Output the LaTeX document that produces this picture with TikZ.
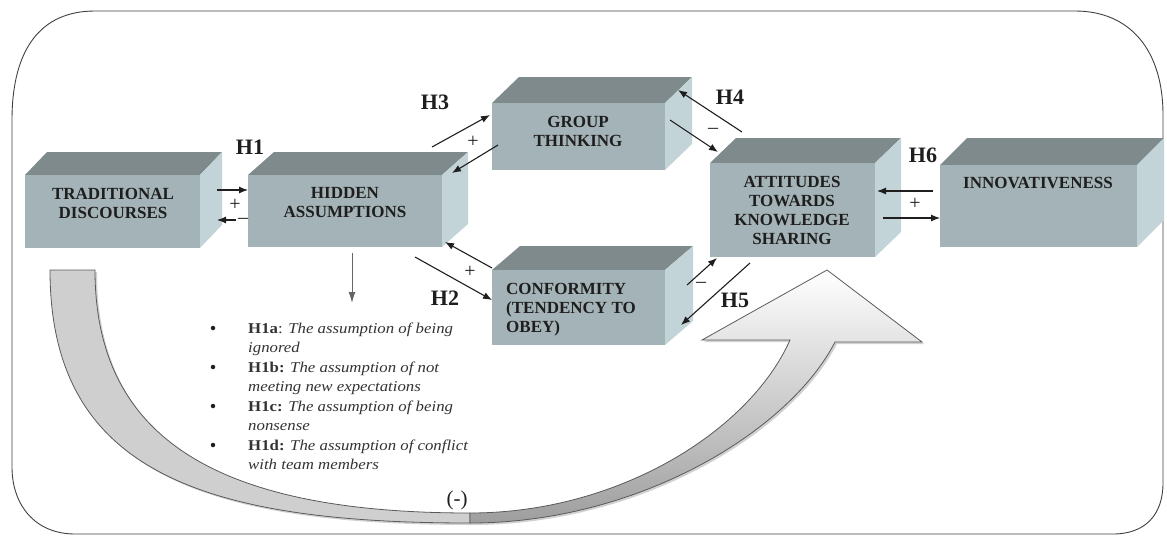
\documentclass[tikz,border=0pt]{standalone}
\usepackage{fontspec}
\setmainfont{Liberation Serif}
\newfontfamily\listfont[FakeStretch=1.12]{Liberation Serif}
\usetikzlibrary{arrows.meta,calc}

\definecolor{cubetop}{HTML}{7F8A8D}
\definecolor{cubefront}{HTML}{A4B3B7}
\definecolor{cubeside}{HTML}{C3D4D8}
\definecolor{ink}{HTML}{1E1E1E}
\definecolor{bandfill}{HTML}{CFCFCF}
\definecolor{bandedge}{HTML}{5A5A5A}

\tikzset{
  x=1pt, y=-1pt,
  frontface/.style={fill=cubefront, draw=none, inner sep=0pt, anchor=north west},
  boxlabel/.style={font=\fontsize{17}{19}\selectfont\bfseries, text=ink, align=center, inner sep=0pt},
  hyp/.style={font=\fontsize{22}{24}\selectfont\bfseries, text=ink, inner sep=0pt},
  sign/.style={font=\fontsize{20}{20}\selectfont, text=ink, inner sep=0pt},
  link/.style={-{Latex[length=9pt,width=7pt]}, line width=1.1pt, draw=ink},
  downlink/.style={-{Latex[length=11pt,width=7pt]}, line width=1pt, draw=black!60},
  listtext/.style={font=\listfont\fontsize{15}{19.5}\selectfont, text=black!80, inner sep=0pt, anchor=base west},
  bullet/.style={circle, fill=ink, inner sep=0pt, minimum size=4.5pt},
  frame/.style={draw=black!75, line width=0.9pt},
}

% cuboid: name, x, y (front top-left), width, height, depth dx, depth dy
\newcommand\cuboid[7]{%
  \fill[cubetop] (#2,#3) -- ++(#6,-#7) -- ++(#4,0) -- ++(-#6,#7) -- cycle;
  \fill[cubeside] (#2+#4,#3) -- ++(#6,-#7) -- ++(0,#5) -- ++(-#6,#7) -- cycle;
  \node[frontface, minimum width=#4pt, minimum height=#5pt] (#1) at (#2,#3) {};
}

\begin{document}
\begin{tikzpicture}
\useasboundingbox (0,0) rectangle (1167,536);

% rounded outer frame
\draw[frame] (95,11) -- (1075,11)
  .. controls (1130,11) and (1163,50) .. (1163,115)
  -- (1163,483)
  .. controls (1163,515) and (1145,534) .. (1113,534)
  -- (75,534)
  .. controls (35,534) and (12,505) .. (12,467)
  -- (12,120)
  .. controls (12,50) and (40,11) .. (95,11) -- cycle;

% large curved arrow: soft shadow
\begin{scope}[shift={(2,2)}]
\fill[black!18] (50,270) -- (95,270) .. controls (95,440) and (220,513) .. (470,513)
  -- (470,523) .. controls (200,523) and (50,470) .. (50,270) -- cycle;
\fill[black!18] (470,513) .. controls (620,513) and (750,430) .. (790,340)
  -- (702,340) -- (827,270) -- (922,342) -- (835,342)
  .. controls (790,430) and (640,523) .. (470,523) -- cycle;
\end{scope}
% back band
\filldraw[fill=bandfill, draw=bandedge, line width=0.8pt]
  (50,270) -- (95,270) .. controls (95,440) and (220,513) .. (470,513)
  -- (470,523) .. controls (200,523) and (50,470) .. (50,270) -- cycle;
% front band with arrow head
\shade[top color=white, bottom color=black!38, draw=bandedge, line width=0.8pt]
  (470,513) .. controls (620,513) and (750,430) .. (790,340)
  -- (702,340) -- (827,270) -- (922,342) -- (835,342)
  .. controls (790,430) and (640,523) .. (470,523) -- cycle;

% boxes
\cuboid{td}{25}{175}{175}{73}{22}{23}
\cuboid{ha}{248}{175}{194}{72}{26}{23}
\cuboid{gt}{492}{103}{173}{67}{27}{26}
\cuboid{cf}{492}{270}{173}{75}{28}{24}
\cuboid{at}{710}{163}{165}{94}{26}{25}
\cuboid{in}{940}{165}{197}{82}{27}{27}

% box texts
\node[boxlabel] (tdtext) at (113,203) {TRADITIONAL\\DISCOURSES};
\node[boxlabel] (hatext) at (345,203) {HIDDEN\\ASSUMPTIONS};
\node[boxlabel] (gttext) at (578,131) {GROUP\\THINKING};
\node[boxlabel, align=left, anchor=west] (cftext) at (506,310) {CONFORMITY\\(TENDENCY TO\\OBEY)};
\node[boxlabel] (attext) at (792,210) {ATTITUDES\\TOWARDS\\KNOWLEDGE\\SHARING};
\node[boxlabel] (intext) at (1038,183) {INNOVATIVENESS};

% connectors between boxes
\draw[link] ($(td.north west)+(192,15)$) -- ($(ha.north west)+(0,15)$);
\draw[link] ($(ha.north west)+(-12,45)$) -- ($(td.north west)+(192,45)$);
\draw[link] ($(ha.north west)+(184,-28)$) -- ($(gt.north west)+(-2,12)$);
\draw[link] ($(gt.north west)+(6,42)$) -- ($(ha.north west)+(204,-2)$);
\draw[link] ($(gt.north west)+(178,17)$) -- ($(at.north west)+(8,-11)$);
\draw[link] ($(at.north west)+(32,-31)$) -- ($(gt.north west)+(186,-13)$);
\draw[link] ($(ha.north west)+(167,82)$) -- ($(cf.north west)+(0,30)$);
\draw[link] ($(cf.north west)+(0,-2)$) -- ($(ha.north west)+(197,67)$);
\draw[link] ($(cf.north west)+(195,15)$) -- ($(at.north west)+(7,95)$);
\draw[link] ($(at.north west)+(40,100)$) -- ($(cf.north west)+(189,55)$);
\draw[link] ($(in.north west)+(-7,26)$) -- ($(at.north west)+(167,28)$);
\draw[link] ($(at.north west)+(173,55)$) -- ($(in.north west)+(0,53)$);

% arrow down to the list of sub-hypotheses
\coordinate (listtop) at (352,303);
\draw[downlink] ($(ha.north west)+(104,78)$) -- (listtop);

% signs on the links
\node[sign] (s1) at (235,205) {+};
\node[sign] (s2) at (243,221) {\textendash};
\node[sign] (s3) at (473,142) {+};
\node[sign] (s4) at (713,131) {\textendash};
\node[sign] (s5) at (470,272) {+};
\node[sign] (s6) at (701,285) {\textendash};
\node[sign] (s7) at (915,204) {+};

% hypothesis labels
\node[hyp] (h1) at (250,147) {H1};
\node[hyp] (h2) at (445,298) {H2};
\node[hyp] (h3) at (435,102) {H3};
\node[hyp] (h4) at (730,97) {H4};
\node[hyp] (h5) at (735,300) {H5};
\node[hyp] (h6) at (923,155) {H6};

% sub-hypotheses list
\node[bullet] (b1) at (213,328) {};
\node[listtext] (l1a) at (248,333) {\textbf{H1a}: \textit{The assumption of being}};
\node[listtext] (l1b) at (248,352.5) {\textit{ignored}};
\node[bullet] (b2) at (213,367) {};
\node[listtext] (l2a) at (248,372) {\textbf{H1b:} \textit{The assumption of not}};
\node[listtext] (l2b) at (248,391.5) {\textit{meeting new expectations}};
\node[bullet] (b3) at (213,406) {};
\node[listtext] (l3a) at (248,411) {\textbf{H1c:} \textit{The assumption of being}};
\node[listtext] (l3b) at (248,430.5) {\textit{nonsense}};
\node[bullet] (b4) at (213,445) {};
\node[listtext] (l4a) at (248,450) {\textbf{H1d:} \textit{The assumption of conflict}};
\node[listtext] (l4b) at (248,469.5) {\textit{with team members}};

% sign of the overall effect
\node[font=\fontsize{21}{21}\selectfont, text=ink, inner sep=0pt] (neg) at (457,500) {(-)};
\end{tikzpicture}
\end{document}
